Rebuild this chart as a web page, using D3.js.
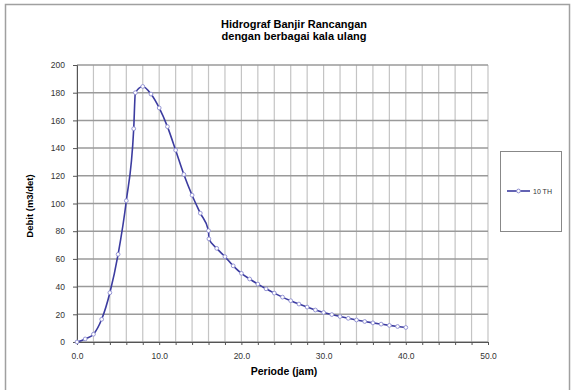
<!DOCTYPE html>
<html>
<head>
<meta charset="utf-8">
<script src="https://cdn.jsdelivr.net/npm/d3@7"></script>
<style>
  body { margin: 0; background: #fff; }
  svg text { font-family: "Liberation Sans", Arial, sans-serif; }
</style>
</head>
<body>
<svg></svg>
<script>
//Set Dimensions of svg
var width = 572;
var height = 390;
var svg = d3.select('svg')
            .attr('width', width)
            .attr('height', height);

//Data (jam, m3/det)
var periode = [0, 1, 2, 3, 4, 5, 6, 6.9, 7.1, 8, 9, 10, 11, 12, 13, 14, 15, 16, 16.05,
               17, 18, 19, 20, 21, 22, 23, 24, 25, 26, 27, 28, 29, 30,
               31, 32, 33, 34, 35, 36, 37, 38, 39, 40];
var debit = [0, 2.2, 5.6, 16.4, 35.6, 63.3, 102, 154, 180, 184.5, 179, 169, 155.5, 138.5, 121, 106, 93, 80.4, 74.5,
             67.6, 61.6, 55, 49.6, 45.5, 41.8, 38.4, 35.3, 32.4, 29.8, 27.4, 25.2, 23.1, 21.3,
             19.8, 18.4, 17.1, 15.9, 14.8, 13.8, 12.9, 12.0, 11.2, 10.5];
var seriesName = '10 TH';
var titleLines = ['Hidrograf Banjir Rancangan', 'dengan berbagai kala ulang'];
var xTicks = [0, 10, 20, 30, 40, 50];
var yTicks = [0, 20, 40, 60, 80, 100, 120, 140, 160, 180, 200];

var data = periode.map(function(p, i) { return {x: p, y: debit[i]}; });

//Chart border
svg.append('rect')
   .attr('x', 5.5).attr('y', 4.5)
   .attr('width', 564).attr('height', 390)
   .attr('fill', 'none')
   .attr('stroke', '#a0a0a0')
   .attr('stroke-width', 1.5);

//Scales
var x = d3.scaleLinear().domain([0, 50]).range([77, 488]);
var y = d3.scaleLinear().domain([0, 200]).range([342, 65]);

//Gridlines
svg.append('g')
   .selectAll('line')
   .data(d3.range(0, 51, 2))
   .enter()
   .append('line')
   .attr('x1', d => x(d)).attr('x2', d => x(d))
   .attr('y1', y(0)).attr('y2', y(200))
   .attr('stroke', '#c4c4c4')
   .attr('stroke-width', 1.2);

svg.append('g')
   .selectAll('line')
   .data(yTicks)
   .enter()
   .append('line')
   .attr('x1', x(0)).attr('x2', x(50))
   .attr('y1', d => y(d)).attr('y2', d => y(d))
   .attr('stroke', '#9a9a9a')
   .attr('stroke-width', 1.5);

//Axes
var xAxis = svg.append('g')
   .attr('transform', 'translate(0,' + y(0) + ')')
   .call(d3.axisBottom(x).tickValues(d3.range(0, 51, 2)).tickSize(3).tickFormat(d => xTicks.indexOf(d) >= 0 ? d.toFixed(1) : ''));
var yAxis = svg.append('g')
   .attr('transform', 'translate(' + x(0) + ',0)')
   .call(d3.axisLeft(y).tickValues(yTicks).tickSize(4).tickFormat(d3.format('d')));

[xAxis, yAxis].forEach(function(a) {
  a.select('.domain').attr('stroke', '#555');
  a.selectAll('.tick line').attr('stroke', '#555');
  a.selectAll('text').attr('fill', '#333').style('font-size', '8.5px');
});
xAxis.selectAll('text').attr('dy', '1.3em');
yAxis.selectAll('text').attr('dx', '-0.6em');

//Line (smoothed like the spreadsheet chart)
var line = d3.line().curve(d3.curveMonotoneX).x(d => x(d.x)).y(d => y(d.y));
svg.append('path')
   .datum(data)
   .attr('d', line)
   .attr('fill', 'none')
   .attr('stroke', '#3c3ca0')
   .attr('stroke-width', 1.6);

svg.append('g')
   .selectAll('circle')
   .data(data)
   .enter()
   .append('circle')
   .attr('cx', d => x(d.x))
   .attr('cy', d => y(d.y))
   .attr('r', 1.9)
   .attr('fill', '#fff')
   .attr('stroke', '#8c8cd0')
   .attr('stroke-width', 0.9);

//Title
svg.append('text')
   .attr('x', 294).attr('y', 28)
   .attr('text-anchor', 'middle')
   .style('font-size', '11px').style('font-weight', 'bold')
   .selectAll('tspan')
   .data(titleLines)
   .enter()
   .append('tspan')
   .attr('x', 294)
   .attr('dy', (d, i) => i === 0 ? 0 : 12)
   .text(d => d);

//Axis titles
svg.append('text')
   .attr('x', 284).attr('y', 375)
   .attr('text-anchor', 'middle')
   .style('font-size', '10.5px').style('font-weight', 'bold')
   .text('Periode (jam)');

svg.append('text')
   .attr('transform', 'translate(33,206) rotate(-90)')
   .attr('text-anchor', 'middle')
   .style('font-size', '9.5px').style('font-weight', 'bold')
   .text('Debit (m3/det)');

//Legend
var legend = svg.append('g');
legend.append('rect')
   .attr('x', 500.5).attr('y', 151.5)
   .attr('width', 61).attr('height', 80)
   .attr('fill', '#fff')
   .attr('stroke', '#888');
legend.append('line')
   .attr('x1', 507).attr('x2', 530)
   .attr('y1', 191).attr('y2', 191)
   .attr('stroke', '#3c3ca0').attr('stroke-width', 1.6);
legend.append('circle')
   .attr('cx', 518.5).attr('cy', 191).attr('r', 1.9)
   .attr('fill', '#fff').attr('stroke', '#8c8cd0');
legend.append('text')
   .attr('x', 533).attr('y', 194)
   .style('font-size', '7px').attr('fill', '#333')
   .text(seriesName);
</script>
</body>
</html>
